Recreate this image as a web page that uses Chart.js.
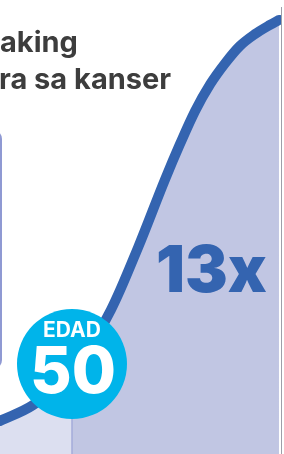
<!DOCTYPE html>
<html>
<head>
<meta charset="utf-8">
<script src="https://cdn.jsdelivr.net/npm/chart.js@4.4.1/dist/chart.umd.min.js"></script>
<style>
  html, body { margin: 0; padding: 0; background: #fff; overflow: hidden; }
  #wrap { position: relative; width: 284px; height: 454px; }
</style>
</head>
<body>
<div id="wrap"><canvas id="riskChart"></canvas></div>
<script>
// curve: age (years) vs relative cancer risk
const ages = [40.0, 44.6, 50.0, 55.4, 59.2, 62.9, 65.0, 67.1, 69.2, 71.3, 73.3, 75.4, 77.5, 78.75];
const risk = [1.00, 1.48, 2.48, 4.35, 6.25, 8.28, 9.36, 10.36, 11.17, 11.81, 12.32, 12.68, 12.96, 13.11];

const markerAge = 50;      // "EDAD 50"
const markerRisk = 2.48;
const headline = ["aking", "ra sa kanser"];
const badgeLabel = "EDAD";
const badgeValue = "50";
const multiplier = "13x";

const colors = {
  line: "#3464b0",
  fillBefore: "#dcdff0",
  fillAfter: "#c1c6e3",
  marker: "#a4acd9",
  badge: "#00b4ea",
  text: "#3d3d3d",
  box: "#8f99d3"
};

// fill: lighter before age 50, darker after
function areaFill(ctx) {
  const chart = ctx.chart;
  const area = chart.chartArea;
  if (!area) return colors.fillAfter;
  const px = chart.scales.x.getPixelForValue(markerAge);
  const f = Math.min(Math.max((px - area.left) / (area.right - area.left), 0), 1);
  const g = chart.ctx.createLinearGradient(area.left, 0, area.right, 0);
  g.addColorStop(0, colors.fillBefore);
  g.addColorStop(f, colors.fillBefore);
  g.addColorStop(f, colors.fillAfter);
  g.addColorStop(1, colors.fillAfter);
  return g;
}

/* ---- decorations: side box, labels, age badge ---- */
const decorPlugin = {
  id: "decor",
  beforeDatasetsDraw(chart) {
    const c = chart.ctx;
    c.save();
    c.strokeStyle = colors.box;
    c.lineWidth = 2;
    c.beginPath();
    c.roundRect(-60, 131, 61, 237, 8);
    c.stroke();

    c.fillStyle = colors.text;
    c.font = "700 29px Inter";
    c.textAlign = "left";
    c.textBaseline = "alphabetic";
    c.fillText(headline[0], 0, 52);
    c.fillText(headline[1], -1, 89);
    c.restore();
  },
  afterDatasetsDraw(chart) {
    const c = chart.ctx;
    const x = chart.scales.x;
    c.save();
    // multiplier label
    c.fillStyle = colors.line;
    c.font = "900 64px Inter";
    c.textAlign = "left";
    c.textBaseline = "alphabetic";
    c.fillText(multiplier, 156, 292);

    // badge at age 50
    const bx = x.getPixelForValue(markerAge);
    const by = 364;
    c.fillStyle = colors.badge;
    c.beginPath();
    c.arc(bx, by, 55, 0, Math.PI * 2);
    c.fill();
    c.fillStyle = "#fff";
    c.textAlign = "center";
    c.font = "700 21px Inter";
    c.fillText(badgeLabel, bx, 337);
    c.font = "800 64px Inter";
    c.fillText(badgeValue, bx + 1, 393);
    c.restore();
  }
};

new Chart(document.getElementById("riskChart"), {
  type: "line",
  data: {
    datasets: [
      {
        label: "Panganib",
        data: ages.map((a, i) => ({ x: a, y: risk[i] })),
        borderColor: colors.line,
        borderWidth: 10,
        borderCapStyle: "round",
        backgroundColor: areaFill,
        fill: "origin",
        pointRadius: 0,
        cubicInterpolationMode: "monotone",
        clip: { left: 6, top: 6, right: 0, bottom: 0 },
        order: 2
      },
      {
        label: "Edad 50",
        data: [{ x: markerAge, y: 0 }, { x: markerAge, y: markerRisk }],
        borderColor: colors.marker,
        borderWidth: 1.5,
        pointRadius: 0,
        fill: false,
        order: 1
      }
    ]
  },
  options: {
    responsive: true,
    maintainAspectRatio: false,
    animation: false,
    layout: { padding: { top: 7, right: 3, left: 0, bottom: 0 } },
    scales: {
      x: {
        type: "linear",
        min: 40,
        max: 79.03,
        display: false
      },
      y: {
        min: 0,
        max: 13.5,
        position: "right",
        z: 1,
        ticks: { display: false },
        grid: { display: false, drawTicks: false },
        border: { display: true, color: "rgba(125,125,140,0.75)", width: 1 }
      }
    },
    plugins: {
      legend: { display: false },
      tooltip: { enabled: false }
    }
  },
  plugins: [decorPlugin]
});
</script>
</body>
</html>
